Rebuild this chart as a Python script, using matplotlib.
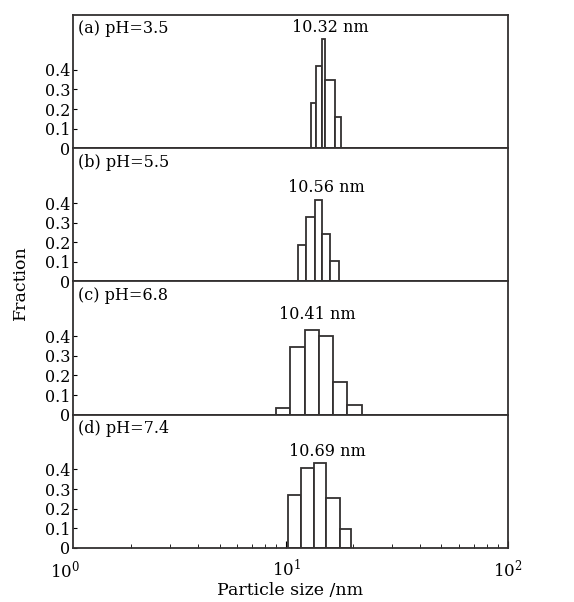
import numpy as np
import matplotlib
matplotlib.use("Agg")
import matplotlib.pyplot as plt
import matplotlib.transforms as mtransforms

# bin edges (nm) and fractions for each pH
edges_a = [12.98, 13.67, 14.55, 14.95, 16.66, 17.60]
frac_a = [0.23, 0.42, 0.56, 0.35, 0.16]
edges_b = [11.29, 12.32, 13.43, 14.49, 15.81, 17.24]
frac_b = [0.186, 0.327, 0.417, 0.241, 0.104]
edges_c = [9.02, 10.43, 12.11, 14.00, 16.24, 18.79, 21.96]
frac_c = [0.036, 0.344, 0.434, 0.40, 0.169, 0.05]
edges_d = [10.18, 11.70, 13.29, 15.17, 17.42, 19.67]
frac_d = [0.268, 0.405, 0.434, 0.255, 0.097]

panel_labels = ["(a) pH=3.5", "(b) pH=5.5", "(c) pH=6.8", "(d) pH=7.4"]
mean_labels = ["10.32 nm", "10.56 nm", "10.41 nm", "10.69 nm"]
mean_x = [15.74, 15.22, 13.86, 15.38]
mean_y = [0.615, 0.48, 0.51, 0.49]

plt.rcParams["font.family"] = ["DejaVu Serif"]
plt.rcParams["mathtext.fontset"] = "dejavuserif"

fig, axes = plt.subplots(4, 1, sharex=True, figsize=(5.74, 6.02), dpi=100)
fig.subplots_adjust(left=0.127, right=0.885, top=0.975, bottom=0.09, hspace=0)

ec = "#333030"
data = [(edges_a, frac_a), (edges_b, frac_b), (edges_c, frac_c), (edges_d, frac_d)]
for i, ax in enumerate(axes):
    edges, frac = data[i]
    edges = np.array(edges)
    ax.bar(edges[:-1], frac, width=np.diff(edges), align="edge",
           color="white", edgecolor=ec, linewidth=1.3)
    ax.set_xscale("log")
    ax.set_xlim(1.09, 100)
    ax.set_ylim(0, 0.68)
    ax.set_yticks([0, 0.1, 0.2, 0.3, 0.4])
    ax.set_yticklabels(["0", "0.1", "0.2", "0.3", "0.4"])
    ax.tick_params(axis="y", direction="in", length=3, width=0.8,
                   labelsize=11.5, pad=2)
    ax.tick_params(axis="x", which="both", direction="in")
    for s in ax.spines.values():
        s.set_linewidth(1.3)
        s.set_color(ec)
    ax.text(0.012, 0.96, panel_labels[i], transform=ax.transAxes,
            ha="left", va="top", fontsize=11.5)
    ax.text(mean_x[i], mean_y[i], mean_labels[i], ha="center", va="center",
            fontsize=11.5)
    if i < 3:
        ax.tick_params(axis="x", which="both", bottom=False, top=False)

ax = axes[-1]
ax.set_xticks([10, 100])
ax.set_xticklabels([r"$10^1$", r"$10^2$"])
ax.tick_params(axis="x", which="major", length=5, labelsize=12, pad=8)
ax.tick_params(axis="x", which="minor", length=3)
trans = mtransforms.blended_transform_factory(ax.transData, ax.transAxes)
ax.text(1.0, -0.085, r"$10^0$", transform=trans, ha="center", va="top",
        fontsize=12, clip_on=False)
ax.set_xlabel("Particle size /nm", fontsize=12.5, labelpad=1)
fig.text(0.035, 0.53, "Fraction", rotation=90, ha="center", va="center",
         fontsize=12.5)

fig.savefig("out.png", dpi=100)
